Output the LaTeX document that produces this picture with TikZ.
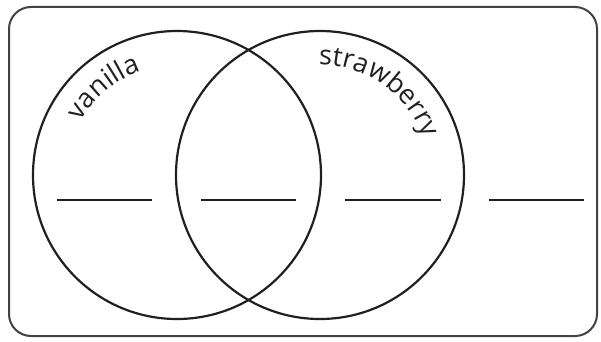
\documentclass[tikz,border=0pt]{standalone}
\usepackage{fontspec}
\setsansfont{Open Sans}
\usetikzlibrary{decorations.text}
\definecolor{ink}{HTML}{231F20}
\tikzset{
  venn/.style={circle, draw=ink, line width=2.2pt, minimum size=288pt, inner sep=0pt},
  blank/.style={draw=ink, line width=2.2pt},
  frame/.style={draw=ink!85, line width=2pt, rounded corners=22pt},
  curvedlabel/.style={decorate, decoration={text along path, text align=center,
     text color=ink, text={|\sffamily\fontsize{27}{27}\selectfont|#1}}}
}
\begin{document}
\begin{tikzpicture}[x=1pt,y=1pt]
\useasboundingbox (0,0) rectangle (601,341);
\draw[frame] (9,5) rectangle (597,334);
\node[venn] (L) at (177,166) {};
\node[venn] (R) at (320,166) {};
\path[curvedlabel={vanilla}] (L.center) ++(172:110) arc[start angle=172, end angle=88, radius=110];
\path[curvedlabel={strawberry}] (R.center) ++(100:110) arc[start angle=100, end angle=10, radius=110];
\coordinate (a1) at (57,141); \coordinate (a2) at (152,141);
\coordinate (b1) at (201,141); \coordinate (b2) at (296,141);
\coordinate (c1) at (345,141); \coordinate (c2) at (441,141);
\coordinate (d1) at (489,141); \coordinate (d2) at (584,141);
\draw[blank] (a1) -- (a2);
\draw[blank] (b1) -- (b2);
\draw[blank] (c1) -- (c2);
\draw[blank] (d1) -- (d2);
\end{tikzpicture}
\end{document}
